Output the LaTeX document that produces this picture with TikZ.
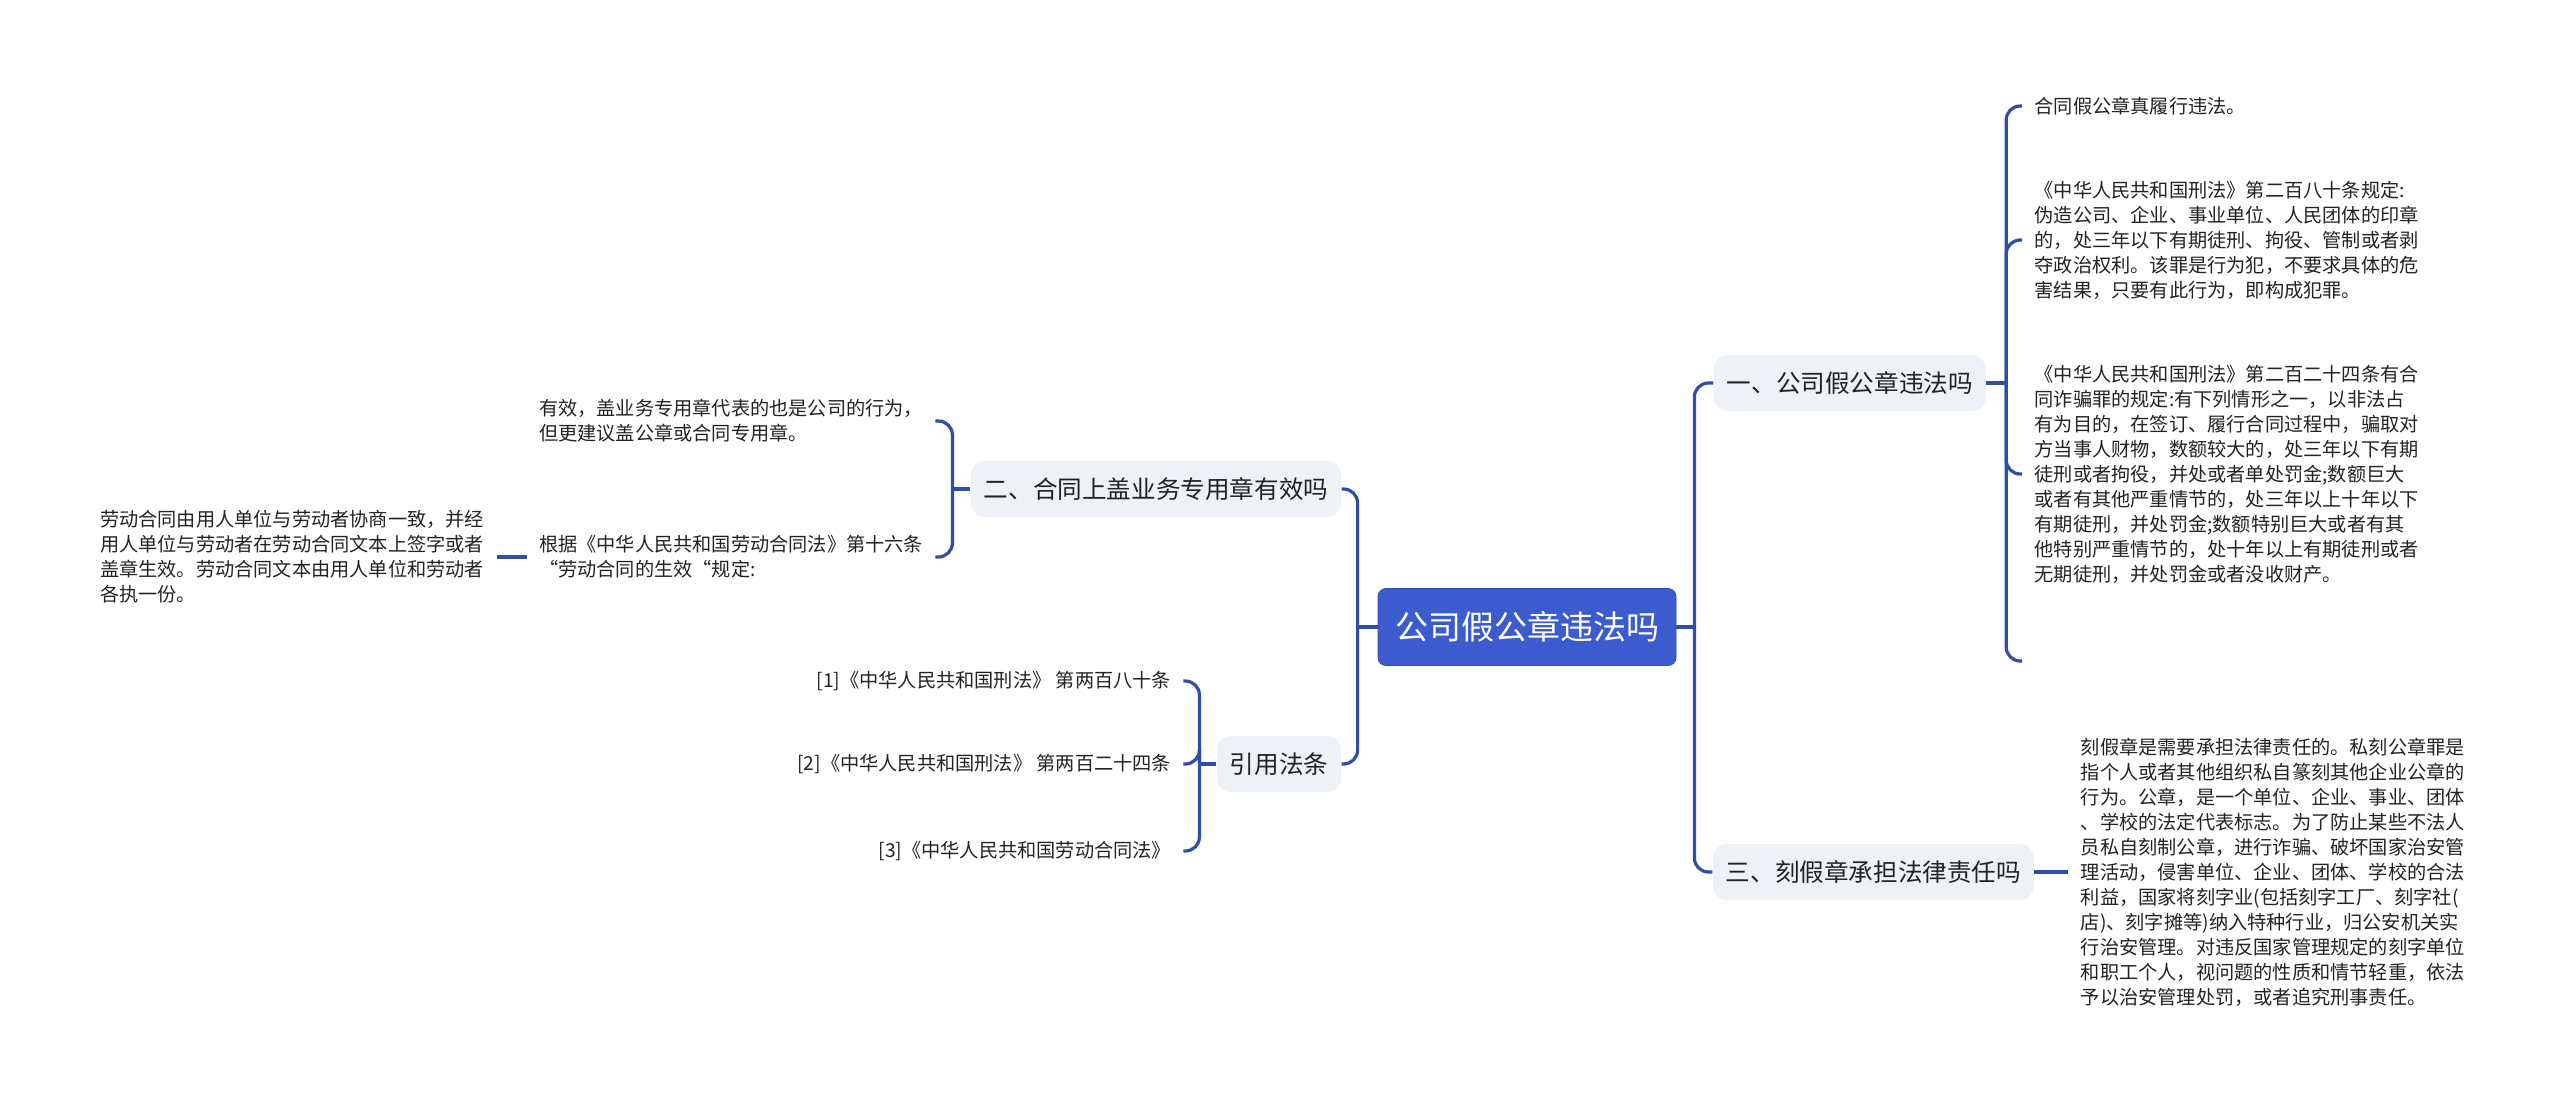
\documentclass[tikz,border=0pt]{standalone}
\usepackage{fontspec}
\newfontfamily\cjk{Noto Sans CJK SC}
\usetikzlibrary{positioning}
\definecolor{mapblue}{RGB}{59,91,207}
\definecolor{linkblue}{RGB}{46,78,168}
\definecolor{subgray}{RGB}{238,241,246}
\definecolor{inkgray}{RGB}{34,34,34}

\begin{document}
\begin{tikzpicture}[
  x=0.5pt, y=-0.5pt,
  every node/.style={font=\cjk, text=inkgray},
  root/.style={fill=mapblue, draw=mapblue!85!black, rounded corners=4pt, text=white,
    font=\cjk\fontsize{16.5}{20}\selectfont, minimum width=149pt, minimum height=38.5pt, inner sep=0pt},
  topic/.style={fill=subgray, rounded corners=7pt, font=\cjk\fontsize{12.3}{15}\selectfont,
    minimum height=28pt, inner xsep=6.5pt, inner ysep=0pt},
  leaf/.style={align=left, inner xsep=6pt, inner ysep=0pt, font=\cjk\fontsize{9.6}{12.5}\selectfont},
  link/.style={draw=linkblue, line width=1.6pt, rounded corners=7pt}
]
\useasboundingbox (0,0) rectangle (2560,1100);

% centre and main topics
\node[root] (root) at (1527,627) {公司假公章违法吗};
\node[topic, right=18.5pt of root, yshift=122pt] (one) {一、公司假公章违法吗};
\node[topic, right=18pt of root, yshift=-122.5pt] (three) {三、刻假章承担法律责任吗};
\node[topic, left=18pt of root, yshift=69pt] (two) {二、合同上盖业务专用章有效吗};
\node[topic, left=18pt of root, yshift=-68.5pt] (cite) {引用法条};

% leaves of one
\node[leaf, right=18pt of one, yshift=138.5pt] (fake) {合同假公章真履行违法。};
\node[leaf, right=18pt of one, yshift=71.5pt] (forge) {《中华人民共和国刑法》第二百八十条规定:\\
伪造公司、企业、事业单位、人民团体的印章\\
的，处三年以下有期徒刑、拘役、管制或者剥\\
夺政治权利。该罪是行为犯，不要求具体的危\\
害结果，只要有此行为，即构成犯罪。};
\node[leaf, right=18pt of one, yshift=-45.5pt] (fraud) {《中华人民共和国刑法》第二百二十四条有合\\
同诈骗罪的规定:有下列情形之一，以非法占\\
有为目的，在签订、履行合同过程中，骗取对\\
方当事人财物，数额较大的，处三年以下有期\\
徒刑或者拘役，并处或者单处罚金;数额巨大\\
或者有其他严重情节的，处三年以上十年以下\\
有期徒刑，并处罚金;数额特别巨大或者有其\\
他特别严重情节的，处十年以上有期徒刑或者\\
无期徒刑，并处罚金或者没收财产。};
\node[leaf, right=18pt of one, yshift=-139pt] (blank) {};

% leaf of three
\node[leaf, right=17pt of three] (seal) {刻假章是需要承担法律责任的。私刻公章罪是\\
指个人或者其他组织私自篆刻其他企业公章的\\
行为。公章，是一个单位、企业、事业、团体\\
、学校的法定代表标志。为了防止某些不法人\\
员私自刻制公章，进行诈骗、破坏国家治安管\\
理活动，侵害单位、企业、团体、学校的合法\\
利益，国家将刻字业(包括刻字工厂、刻字社(\\
店)、刻字摊等)纳入特种行业，归公安机关实\\
行治安管理。对违反国家管理规定的刻字单位\\
和职工个人，视问题的性质和情节轻重，依法\\
予以治安管理处罚，或者追究刑事责任。};

% leaves of two
\node[leaf, left=17.5pt of two, yshift=34pt] (valid) {有效，盖业务专用章代表的也是公司的行为，\\
但更建议盖公章或合同专用章。};
\node[leaf, left=17.5pt of two, yshift=-34pt] (basis) {根据《中华人民共和国劳动合同法》第十六条\\
“劳动合同的生效“规定:};
\node[leaf, left=15pt of basis] (effect) {劳动合同由用人单位与劳动者协商一致，并经\\
用人单位与劳动者在劳动合同文本上签字或者\\
盖章生效。劳动合同文本由用人单位和劳动者\\
各执一份。};

% leaves of cite
\node[leaf, left=16.5pt of cite, yshift=41.5pt] (lawA) {[1]《中华人民共和国刑法》 第两百八十条};
\node[leaf, left=16.5pt of cite] (lawB) {[2]《中华人民共和国刑法》 第两百二十四条};
\node[leaf, left=16.5pt of cite, yshift=-43.5pt] (lawC) {[3]《中华人民共和国劳动合同法》};

% junctions
\coordinate (rootR) at ([xshift=9pt]root.east);
\coordinate (rootL) at ([xshift=-10pt]root.west);
\coordinate (oneJ) at ([xshift=10pt]one.east);
\coordinate (twoJ) at ([xshift=-9pt]two.west);
\coordinate (citeJ) at ([xshift=-8.5pt]cite.west);

% connectors
\draw[link] (root.east) -- (rootR);
\draw[link] (root.west) -- (rootL);
\foreach \n in {one,three} \draw[link] (rootR) |- (\n.west);
\foreach \n in {two,cite} \draw[link] (rootL) |- (\n.east);
\draw[link] (one.east) -- (oneJ);
\foreach \n in {fake,forge,fraud,blank} \draw[link] (oneJ) |- (\n.west);
\draw[link] (three.east) -- (seal.west);
\draw[link] (two.west) -- (twoJ);
\foreach \n in {valid,basis} \draw[link] (twoJ) |- (\n.east);
\draw[link] (basis.west) -- (effect.east);
\draw[link] (cite.west) -- (citeJ);
\foreach \n in {lawA,lawB,lawC} \draw[link] (citeJ) |- (\n.east);
\end{tikzpicture}
\end{document}
